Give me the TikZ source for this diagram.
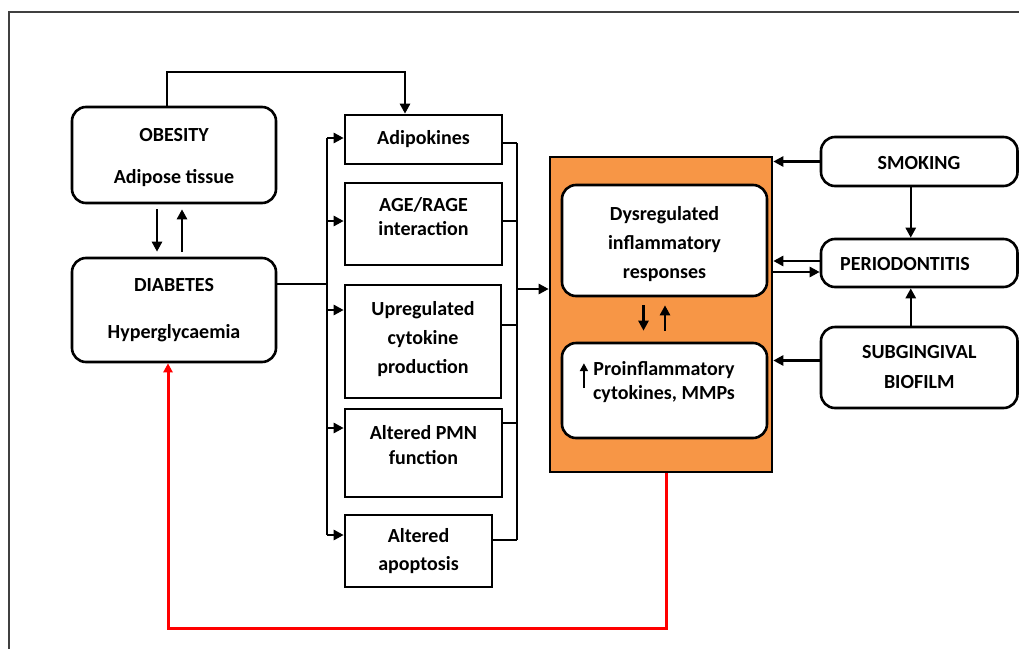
\documentclass[tikz,border=0pt]{standalone}
\usepackage{fontspec}
\setmainfont{Carlito}
\usepackage{xcolor}
\usetikzlibrary{arrows.meta,calc,positioning}
\definecolor{boxorange}{HTML}{F79646}
\definecolor{framegray}{HTML}{404040}

\tikzset{
  txt/.style={align=center, inner sep=0pt, font=\bfseries\fontsize{20}{26}\selectfont},
  rbox/.style={txt, draw, line width=2.6pt, rounded corners=14pt, fill=white},
  sbox/.style={txt, draw, line width=2.6pt, fill=white},
  line/.style={line width=2.5pt},
  conn/.style={line, -{Triangle[length=10pt,width=10pt]}},
}

\begin{document}
\begin{tikzpicture}[x=1pt,y=-1pt]
  \useasboundingbox (0,0) rectangle (1019,648);
  % frame
  \draw[framegray, line width=1.5pt] (9,700) -- (9,12) -- (1100,12);

  % left side
  \node[rbox, minimum width=204, minimum height=96] (obesity) at (174,155) {};
  \node[txt] (obesitytext) at (174,158) {OBESITY\\[16pt]Adipose tissue};
  \node[rbox, minimum width=204, minimum height=104] (diabetes) at (174,310) {DIABETES\\[21pt]Hyperglycaemia};
  \draw[conn] ($(obesity.south)+(-17,5)$) -- ($(diabetes.north)+(-17,-5)$);
  \draw[conn] ($(diabetes.north)+(8,-5)$) -- ($(obesity.south)+(8,5)$);

  % mechanisms
  \node[sbox, minimum width=157, minimum height=49] (adipo) at (423.5,139.5) {Adipokines};
  \node[sbox, minimum width=157, minimum height=82] (age) at (423.5,224) {};
  \node[txt] (agetext) at (423.5,217) {AGE/RAGE\\[-2pt]interaction};
  \node[sbox, minimum width=156, minimum height=113] (upreg) at (423,341.5) {};
  \node[txt] (upregtext) at (423,339) {Upregulated\\[3pt]cytokine\\[3pt]production};
  \node[sbox, minimum width=157, minimum height=88] (pmn) at (423.5,453) {};
  \node[txt] (pmntext) at (423.5,445) {Altered PMN\\[-1pt]function};
  \node[sbox, minimum width=147, minimum height=72] (apop) at (418.5,551) {Altered\\[2pt]apoptosis};

  % obesity to adipokines
  \coordinate (topleft) at ($(obesity.north)+(-7,0)$);
  \coordinate (topright) at ($(adipo.north)+(-18.5,0)$);
  \draw[conn] (topleft) -- (topleft |- 0,72) -- (topright |- 0,72) -- (topright);

  % left bus
  \coordinate (lbus) at (327,284);
  \draw[line] (diabetes.east |- lbus) -- (lbus);
  \draw[line] (327,138) -- (327,535);
  \foreach \b/\y in {adipo/138, age/221, upreg/310, pmn/428, apop/535}{
    \coordinate (bus\b) at (327,\y);
    \draw[conn] (bus\b) -- (bus\b -| \b.west);
  }

  % right bus
  \draw[line] (517,143) -- (517,540);
  \foreach \b/\y in {adipo/143, age/221, upreg/325, pmn/423, apop/540}{
    \coordinate (rbus\b) at (517,\y);
    \draw[line] (rbus\b -| \b.east) -- (rbus\b);
  }

  % central block
  \node[draw, fill=boxorange, line width=2.6pt, minimum width=222, minimum height=315] (host) at (661,314.5) {};
  \coordinate (rbusout) at (517,289);
  \draw[conn] (rbusout) -- (rbusout -| host.west);
  \node[rbox, minimum width=205, minimum height=111] (dysreg) at (664.5,240.5) {};
  \node[txt] (dysregtext) at (664.5,244) {Dysregulated\\[3pt]inflammatory\\[3pt]responses};
  \node[rbox, minimum width=205, minimum height=95] (proinfl) at (664.5,390.5) {};
  \node[txt] (proinfltext) at (664,382) {Proinflammatory\\[-2pt]cytokines, MMPs};
  \draw[line, -{Triangle[length=8pt,width=8pt]}] ($(proinfltext.north west)+(-9,27)$) -- ($(proinfltext.north west)+(-9,2)$);
  \draw[conn] ($(dysreg.south)+(-21,8)$) -- ($(proinfl.north)+(-21,-11)$);
  \draw[conn] ($(proinfl.north)+(0.5,-11)$) -- ($(dysreg.south)+(0.5,8)$);

  % right side
  \node[rbox, minimum width=196.5, minimum height=49] (smoking) at (919.25,161.5) {};
  \node[txt] (smokingtext) at (919,163) {SMOKING};
  \node[rbox, minimum width=196.5, minimum height=48] (perio) at (919.25,263) {};
  \node[txt] (periotext) at (905,264) {PERIODONTITIS};
  \node[rbox, minimum width=196.5, minimum height=81] (subg) at (919.25,367.5) {SUBGINGIVAL\\[4pt]BIOFILM};
  \draw[conn] (smoking.west) -- (smoking.west -| host.east);
  \draw[conn] ($(perio.west)+(0,-2)$) -- ($(perio.west -| host.east)+(0,-2)$);
  \draw[conn] ($(perio.west -| host.east)+(0,9)$) -- ($(perio.west)+(0,9)$);
  \draw[conn] ($(subg.west)+(0,-7)$) -- ($(subg.west -| host.east)+(0,-7)$);
  \draw[conn] ($(smoking.south)+(-8.5,0)$) -- ($(perio.north)+(-8.5,0)$);
  \draw[conn] ($(subg.north)+(-8.5,0)$) -- ($(perio.south)+(-8.5,0)$);

  % feedback loop
  \coordinate (redout) at ($(host.south)+(5,0)$);
  \coordinate (redin) at ($(diabetes.south)+(-6,0)$);
  \draw[red, line width=3pt, -{Triangle[length=9pt,width=9pt]}] (redout) -- (redout |- 0,628) -- (redin |- 0,628) -- (redin);
\end{tikzpicture}
\end{document}
